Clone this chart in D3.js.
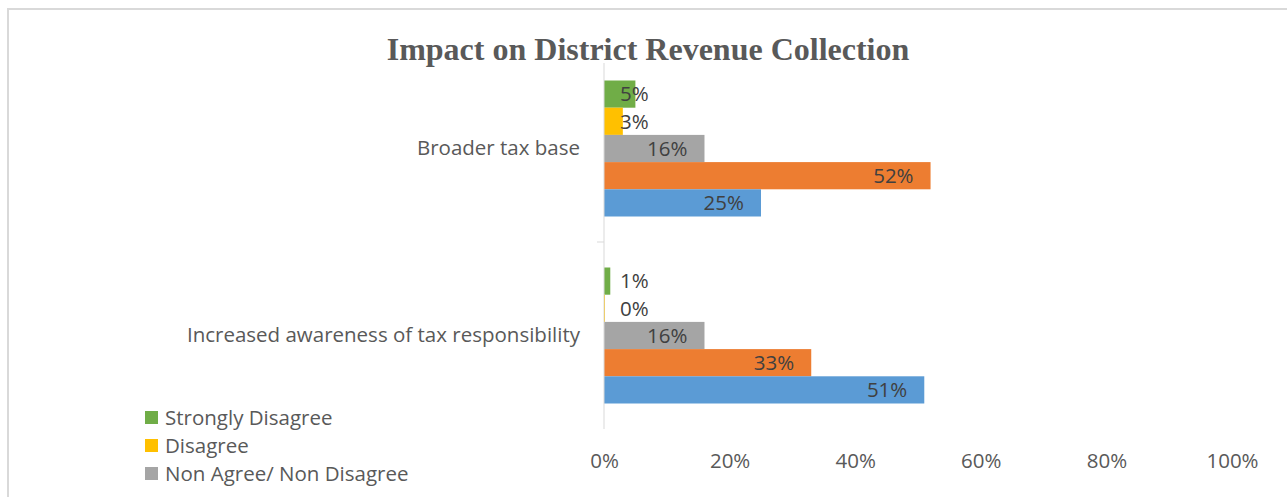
<!DOCTYPE html>
<html>
<head>
<meta charset="utf-8">
<script src="https://cdn.jsdelivr.net/npm/d3@7"></script>
<style>
  html, body { margin: 0; padding: 0; background: #fff; }
  svg { display: block; }
</style>
</head>
<body>
<svg id="chart" width="1287" height="497"></svg>
<script>
// Survey responses per statement (percent of respondents)
const categories = ["Broader tax base", "Increased awareness of tax responsibility"];
const seriesNames = ["Strongly Disagree", "Disagree", "Non Agree/ Non Disagree", "Agree", "Strongly Agree"];
const stronglyDisagree = [5, 1];
const disagree = [3, 0];
const neutral = [16, 16];
const agree = [52, 33];
const stronglyAgree = [25, 51];
const xTicks = [0, 20, 40, 60, 80, 100];
const seriesColors = ["#70AD47", "#FFC000", "#A5A5A5", "#ED7D31", "#5B9BD5"];

const seriesValues = [stronglyDisagree, disagree, neutral, agree, stronglyAgree];

const svg = d3.select("#chart");
const FONT = "'Open Sans', Lato, sans-serif";
const FS = 20.5;

// chart frame
svg.append("rect")
  .attr("x", 8).attr("y", 9)
  .attr("width", 1300).attr("height", 520)
  .attr("fill", "#fff")
  .attr("stroke", "#D9D9D9").attr("stroke-width", 2);

// title
svg.append("text")
  .attr("x", 648).attr("y", 60)
  .attr("text-anchor", "middle")
  .attr("font-family", "'Liberation Serif', 'Times New Roman', serif")
  .attr("font-weight", "bold")
  .attr("font-size", 32)
  .attr("fill", "#595959")
  .text("Impact on District Revenue Collection");

const x = d3.scaleLinear().domain([0, 100]).range([604, 1232]);
const y = d3.scaleBand().domain(categories).range([55, 429]).paddingInner(0).paddingOuter(0);
// bars fill the middle 136px of each category band
const groupPad = (y.bandwidth() - 136) / 2;
const inner = d3.scaleBand().domain(seriesNames)
  .range([groupPad, y.bandwidth() - groupPad]).paddingOuter(0).paddingInner(0);

// bars
const groups = svg.selectAll("g.cat")
  .data(categories)
  .join("g")
  .attr("class", "cat")
  .attr("transform", d => `translate(0,${y(d)})`);

const rows = groups.selectAll("g.bar")
  .data((c, ci) => seriesNames.map((s, si) => ({ s, si, v: seriesValues[si][ci] })))
  .join("g").attr("class", "bar");

rows.append("rect")
  .attr("x", x(0))
  .attr("y", d => inner(d.s))
  .attr("width", d => Math.max(1, x(d.v) - x(0)))
  .attr("height", inner.bandwidth())
  .attr("fill", d => seriesColors[d.si]);

// value labels, inside end; pushed right of the axis when the bar is too short
rows.append("text")
  .attr("y", d => inner(d.s) + inner.bandwidth() / 2)
  .attr("dy", "0.36em")
  .attr("font-family", FONT)
  .attr("font-size", FS)
  .attr("fill", "#404040")
  .text(d => d.v + "%")
  .each(function (d) {
    const w = this.getComputedTextLength();
    const right = Math.max(x(d.v) - 17, x(0) + 16 + w);
    d3.select(this).attr("x", right).attr("text-anchor", "end");
  });

// category axis
const yAxis = svg.append("g")
  .attr("transform", `translate(${x(0)},0)`)
  .call(d3.axisLeft(y).tickSize(0).tickPadding(24));
yAxis.select(".domain").remove();
yAxis.selectAll("text")
  .attr("font-family", FONT)
  .attr("font-size", FS)
  .attr("fill", "#595959");
yAxis.append("line")
  .attr("x1", 0).attr("x2", 0)
  .attr("y1", 63).attr("y2", 429)
  .attr("stroke", "#D9D9D9").attr("stroke-width", 1);
yAxis.selectAll("line.sep")
  .data(categories.slice(0, -1))
  .join("line").attr("class", "sep")
  .attr("x1", -7).attr("x2", 0)
  .attr("y1", d => y(d) + y.bandwidth())
  .attr("y2", d => y(d) + y.bandwidth())
  .attr("stroke", "#D9D9D9");

// value axis (labels only)
const xAxis = svg.append("g")
  .attr("transform", "translate(0,461)")
  .call(d3.axisBottom(x).tickValues(xTicks).tickFormat(d => d + "%").tickSize(0).tickPadding(0));
xAxis.select(".domain").remove();
xAxis.selectAll("text")
  .attr("dy", "0.36em")
  .attr("font-family", FONT)
  .attr("font-size", FS)
  .attr("fill", "#595959");

// legend (the box only has room for the first three entries)
const legend = svg.append("g").attr("transform", "translate(145,418)");
const items = legend.selectAll("g")
  .data(seriesNames.slice(0, 3))
  .join("g")
  .attr("transform", (d, i) => `translate(0,${i * 28})`);
items.append("rect")
  .attr("x", 0).attr("y", -7)
  .attr("width", 13).attr("height", 13)
  .attr("fill", (d, i) => seriesColors[i]);
items.append("text")
  .attr("x", 20).attr("dy", "0.36em")
  .attr("font-family", FONT)
  .attr("font-size", FS)
  .attr("fill", "#595959")
  .text(d => d);
</script>
</body>
</html>
